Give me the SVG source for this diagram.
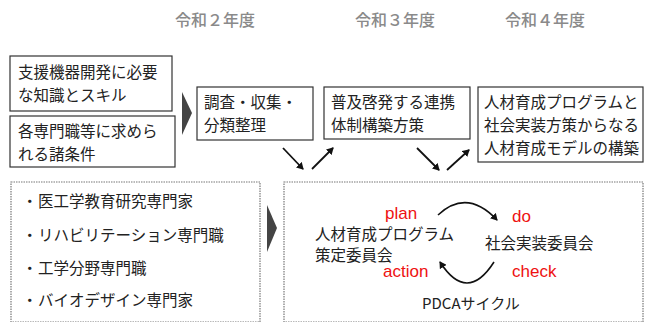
<svg xmlns="http://www.w3.org/2000/svg" width="646" height="322" viewBox="0 0 646 322">
<style>
.hdr{font-family:"Noto Sans CJK JP","Noto Sans",sans-serif;font-size:16px;fill:#8a8a8a;font-weight:500}
.t{font-family:"Noto Sans CJK JP","Noto Sans",sans-serif;font-size:15.5px;fill:#222;dominant-baseline:central}
.box{fill:#fff;stroke:#333;stroke-width:1.2}
.dbox{fill:#fff;stroke:#777;stroke-width:1.2;stroke-dasharray:1.5 1}
.chev{fill:#444}
.red{font-family:"Liberation Sans",Arial,sans-serif;font-size:17px;fill:#ee1111}
.arr{stroke:#111;stroke-width:1.8;fill:none;marker-end:url(#ah)}
.arc{stroke:#111;stroke-width:1.6;fill:none;marker-end:url(#ah)}
</style>
<defs>
<marker id="ah" markerWidth="8" markerHeight="8" refX="6" refY="4" orient="auto" markerUnits="userSpaceOnUse"><path d="M0,0 L7,4 L0,8 Z" fill="#111"/></marker>
</defs>
<rect width="646" height="322" fill="#fff"/>
<g id="headers">
<text class="hdr" x="175" y="26">令和２年度</text>
<text class="hdr" x="355" y="26">令和３年度</text>
<text class="hdr" x="505" y="26">令和４年度</text>
</g>
<g id="n_skill">
<rect class="box" x="10" y="56" width="162" height="55"/>
<text class="t" x="18" y="71">支援機器開発に必要</text>
<text class="t" x="18" y="94">な知識とスキル</text>
</g>
<g id="n_cond">
<rect class="box" x="10" y="116" width="165" height="51"/>
<text class="t" x="18" y="130">各専門職等に求めら</text>
<text class="t" x="18" y="153">れる諸条件</text>
</g>
<g id="n_survey">
<rect class="box" x="197" y="87" width="116" height="53"/>
<text class="t" x="204" y="101">調査・収集・</text>
<text class="t" x="204" y="124">分類整理</text>
</g>
<g id="n_promo">
<rect class="box" x="324" y="87" width="146" height="52"/>
<text class="t" x="331" y="101">普及啓発する連携</text>
<text class="t" x="331" y="124">体制構築方策</text>
</g>
<g id="n_model">
<rect class="box" x="478" y="87" width="165" height="75"/>
<text class="t" x="484" y="101">人材育成プログラムと</text>
<text class="t" x="484" y="124">社会実装方策からなる</text>
<text class="t" x="484" y="147">人材育成モデルの構築</text>
</g>
<g id="n_experts">
<rect class="dbox" x="11" y="182" width="249" height="140"/>
<text class="t" x="22" y="200">・</text><text class="t" x="38" y="200">医工学教育研究専門家</text>
<text class="t" x="22" y="234">・</text><text class="t" x="38" y="234">リハビリテーション専門職</text>
<text class="t" x="22" y="267">・</text><text class="t" x="38" y="267">工学分野専門職</text>
<text class="t" x="22" y="299">・</text><text class="t" x="38" y="299">バイオデザイン専門家</text>
</g>
<g id="n_pdca">
<rect class="dbox" x="284" y="182" width="359" height="140"/>
<text class="t" x="315" y="233">人材育成プログラム</text>
<text class="t" x="315" y="254">策定委員会</text>
<text class="t" x="485" y="242">社会実装委員会</text>
<text class="red" x="385" y="219">plan</text>
<text class="red" x="512" y="222">do</text>
<text class="red" x="383" y="277">action</text>
<text class="red" x="512" y="277">check</text>
<text class="t" x="422" y="302" style="font-size:15px">PDCAサイクル</text>
<path class="arc" d="M438,215 Q467,188 497,220"/>
<path class="arc" d="M494,262 Q467,304 440,262"/>
</g>
<g id="connectors">
<polygon class="chev" points="182,92 192,113 182,135"/>
<polygon class="chev" points="267,205 277,228 267,252"/>
<line class="arr" x1="283" y1="148" x2="303" y2="169"/>
<line class="arr" x1="312" y1="169" x2="333" y2="148"/>
<line class="arr" x1="417" y1="148" x2="439" y2="170"/>
<line class="arr" x1="447" y1="170" x2="469" y2="150"/>
</g>
</svg>
